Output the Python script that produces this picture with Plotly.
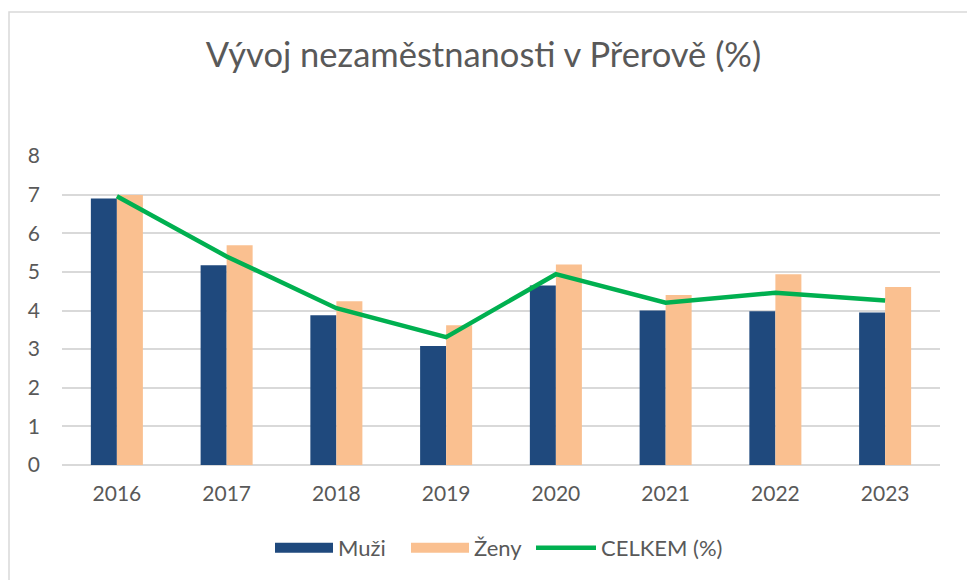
import plotly.graph_objects as go

years = ["2016", "2017", "2018", "2019", "2020", "2021", "2022", "2023"]
muzi = [6.90, 5.17, 3.88, 3.08, 4.65, 4.00, 3.98, 3.95]
zeny = [6.99, 5.69, 4.24, 3.62, 5.19, 4.40, 4.94, 4.61]
celkem = [6.96, 5.40, 4.06, 3.31, 4.94, 4.20, 4.46, 4.26]

C_MUZI, C_ZENY, C_CELK = "#1F497D", "#FAC090", "#00B050"

W, H = 967, 580
L, R, T, B = 62, 27, 156, 115
pw, ph = W - L - R, H - T - B

fig = go.Figure()
fig.add_trace(go.Bar(x=years, y=muzi, name="Muži", showlegend=False,
                     marker=dict(color=C_MUZI, line=dict(width=0))))
fig.add_trace(go.Bar(x=years, y=zeny, name="Ženy", showlegend=False,
                     marker=dict(color=C_ZENY, line=dict(width=0))))
fig.add_trace(go.Scatter(x=years, y=celkem, name="CELKEM (%)", mode="lines", showlegend=False,
                         line=dict(color=C_CELK, width=4.5)))
# legend entries (wide swatches like the original)
fig.add_trace(go.Scatter(x=[years[0]], y=[None], name="Muži", mode="lines",
                         line=dict(color=C_MUZI, width=16), legend="legend"))
fig.add_trace(go.Scatter(x=[years[0]], y=[None], name="Ženy", mode="lines",
                         line=dict(color=C_ZENY, width=16), legend="legend"))
fig.add_trace(go.Scatter(x=[years[0]], y=[None], name="CELKEM (%)", mode="lines",
                         line=dict(color=C_CELK, width=4.5), legend="legend2"))

font_family = "Lato, 'Open Sans', sans-serif"
leg_y = (465 - 548) / ph
fig.update_layout(
    width=W, height=H,
    margin=dict(l=L, r=R, t=T, b=B, autoexpand=False),
    paper_bgcolor="white", plot_bgcolor="white",
    barmode="group", bargap=0.526, bargroupgap=0,
    title=dict(text="Vývoj nezaměstnanosti v Přerově (%)", x=0.5, xanchor="center",
               y=1 - 55 / H, yanchor="middle",
               font=dict(family=font_family, size=34.5, color="#595959")),
    font=dict(family=font_family, color="#595959"),
    legend=dict(orientation="h", x=(270 - L) / pw, xanchor="left", y=leg_y, yanchor="middle",
                font=dict(size=22, color="#595959"), itemwidth=58, entrywidth=63,
                traceorder="normal"),
    legend2=dict(orientation="h", x=(531 - L) / pw, xanchor="left", y=leg_y, yanchor="middle",
                 font=dict(size=22, color="#595959"), itemwidth=60),
    xaxis=dict(showgrid=False, showline=False, ticks="", tickfont=dict(size=21, color="#595959"),
               ticklabelstandoff=14),
    yaxis=dict(range=[0, 8], dtick=1, showgrid=True, gridcolor="#D9D9D9", gridwidth=1.5,
               zeroline=True, zerolinecolor="#D9D9D9", zerolinewidth=1.5,
               ticks="", tickfont=dict(size=21, color="#595959"), ticklabelstandoff=21),
    shapes=[dict(type="rect", xref="paper", yref="paper",
                 x0=(9 - L) / pw, x1=(W + 20 - L) / pw,
                 y0=(465 - (H + 20)) / ph, y1=(465 - 12) / ph,
                 line=dict(color="#D9D9D9", width=1.5), layer="below")],
)

fig.write_html("out.html")
